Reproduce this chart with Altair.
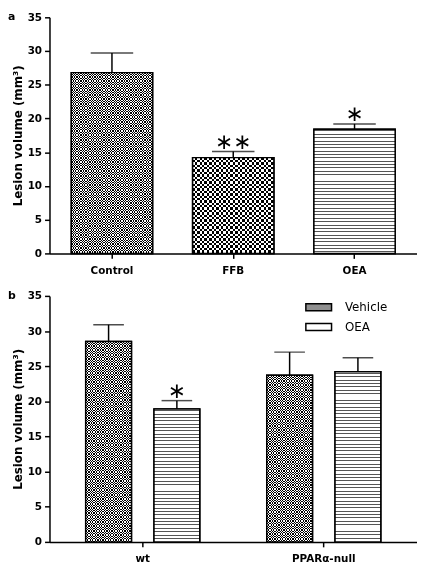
import altair as alt
import pandas as pd

# ---------------- data ----------------
a_groups = ["Control", "FFB", "OEA"]
a_means = [26.8, 14.2, 18.4]
a_errs = [2.9, 0.9, 0.8]
a_sig = ["", "∗∗", "∗"]

b_genotype = ["wt", "wt", "PPARα-null", "PPARα-null"]
b_treat = ["Vehicle", "OEA", "Vehicle", "OEA"]
b_means = [28.5, 18.9, 23.7, 24.2]
b_errs = [2.4, 1.2, 3.3, 2.0]
b_sig = ["", "∗", "", ""]

y_ticks = [0, 5, 10, 15, 20, 25, 30, 35]
y_title = "Lesion volume (mm³)"

FONT = "DejaVu Sans"
W = 372
HA = 239
HB = 249
YMAX = 35
GRAY = "#8f8f8f"
BW_A = 82.5
BW_B = 46.3


def stripes(h_px, period=3.4, thick=1.0, color="#555555", vertical=False,
            light="#ffffff", start=1.2):
    stops = [alt.GradientStop(offset=0, color=light)]
    k = 0
    while True:
        s = (k * period + start) / h_px
        e = s + thick / h_px
        if e >= 1:
            break
        stops += [alt.GradientStop(offset=s, color=light),
                  alt.GradientStop(offset=s, color=color),
                  alt.GradientStop(offset=e, color=color),
                  alt.GradientStop(offset=e, color=light)]
        k += 1
    stops.append(alt.GradientStop(offset=1, color=light))
    if vertical:
        return alt.LinearGradient(gradient="linear", stops=stops, x1=0, x2=1, y1=0, y2=0)
    return alt.LinearGradient(gradient="linear", stops=stops, x1=0, x2=0, y1=0, y2=1)


def checker(base, y, filt, h_px, w_px, period):
    half = period / 2
    clear = "rgba(255,255,255,0)"
    white = base.mark_bar(fill="#ffffff").encode(y=y).transform_filter(filt)
    hs = base.mark_bar(fill=stripes(h_px, period=period, thick=half, color="#ffffff",
                                    light=clear, start=0),
                       blend="difference").encode(y=y).transform_filter(filt)
    vs = base.mark_bar(fill=stripes(w_px, period=period, thick=half, color="#ffffff",
                                    light=clear, start=0, vertical=True),
                       blend="difference").encode(y=y).transform_filter(filt)
    return [white, hs, vs]


def y_axis():
    return alt.Axis(values=y_ticks, title=y_title, titleFont=FONT, titleFontWeight="bold",
                    titleFontSize=12, titleColor="black", titlePadding=3,
                    labelFont=FONT, labelFontWeight="bold", labelFontSize=10.5,
                    labelColor="black", tickSize=5, tickColor="black", tickWidth=1.5,
                    domainColor="black", domainWidth=1.5, grid=False, labelPadding=3,
                    labelOverlap=False)


def x_axis():
    return alt.Axis(labelAngle=0, labelFont=FONT, labelFontWeight="bold",
                    labelFontSize=10.5, labelColor="black", tickSize=5,
                    tickColor="black", tickWidth=1.5, domainColor="black",
                    domainWidth=1.5, labelPadding=7)


def ysc():
    return alt.Scale(domain=[0, YMAX], nice=False)


# ---------------- panel a ----------------
dfa = pd.DataFrame({"group": a_groups, "mean": a_means, "err": a_errs, "sig": a_sig})
dfa["upper"] = dfa["mean"] + dfa["err"]

xa = alt.X("group:N", sort=a_groups, title=None,
           scale=alt.Scale(paddingInner=0.33, paddingOuter=0.18), axis=x_axis())
ya = alt.Y("mean:Q", scale=ysc(), axis=y_axis())
yua = alt.Y("upper:Q", scale=ysc(), axis=y_axis())

base_a = alt.Chart(dfa).encode(x=xa)

bars_a = base_a.mark_bar(stroke="black", strokeWidth=1.5).encode(
    y=ya,
    fill=alt.Fill("group:N", scale=alt.Scale(domain=a_groups,
                                             range=[GRAY, "#ffffff", "#ffffff"]),
                  legend=None))
err_a = base_a.mark_rule(color="black", strokeWidth=1.5).encode(y=ya, y2="upper:Q")

ctrl = checker(base_a, ya, alt.datum.group == "Control",
               a_means[0] / YMAX * HA, BW_A, 2.6)
ffb = checker(base_a, ya, alt.datum.group == "FFB",
              a_means[1] / YMAX * HA, BW_A, 4.8)

oea_h = a_means[2] / YMAX * HA
oea_a = base_a.mark_bar(fill=stripes(oea_h)).encode(y=ya).transform_filter(
    alt.datum.group == "OEA")

outline_a = base_a.mark_bar(fillOpacity=0, stroke="black", strokeWidth=1.5).encode(y=ya)
cap_a = base_a.mark_tick(color="black", size=43, thickness=1.5).encode(y=yua)
sig_a = base_a.mark_text(font=FONT, fontSize=22, baseline="middle", dy=-10,
                         color="black").encode(y=yua, text="sig:N")

lab_a = alt.Chart(pd.DataFrame({"t": ["a"]})).mark_text(
    font=FONT, fontWeight="bold", fontSize=11, align="left", baseline="middle",
    color="black").encode(text="t:N", x=alt.value(-42), y=alt.value(0))

panel_a = alt.layer(bars_a, err_a, *ctrl, *ffb, oea_a, outline_a, cap_a, sig_a,
                    lab_a).properties(width=W, height=HA)

# ---------------- panel b ----------------
dfb = pd.DataFrame({"genotype": b_genotype, "treat": b_treat, "mean": b_means,
                    "err": b_errs, "sig": b_sig})
dfb["upper"] = dfb["mean"] + dfb["err"]
geno_order = ["wt", "PPARα-null"]
treat_order = ["Vehicle", "OEA"]

xb = alt.X("genotype:N", sort=geno_order, title=None,
           scale=alt.Scale(paddingInner=0.37, paddingOuter=0.2), axis=x_axis())
xob = alt.XOffset("treat:N", sort=treat_order,
                  scale=alt.Scale(paddingInner=0.33, paddingOuter=0))
yb = alt.Y("mean:Q", scale=ysc(), axis=y_axis())
yub = alt.Y("upper:Q", scale=ysc(), axis=y_axis())

base_b = alt.Chart(dfb).encode(x=xb, xOffset=xob)

bars_b = base_b.mark_bar(stroke="black", strokeWidth=1.5).encode(
    y=yb,
    fill=alt.Fill("treat:N", sort=treat_order,
                  scale=alt.Scale(domain=treat_order, range=[GRAY, "#ffffff"]),
                  legend=alt.Legend(title=None, orient="none", legendX=265, legendY=4,
                                    symbolType="M-2,-0.54H2V0.54H-2Z", symbolSize=169,
                                    symbolStrokeColor="black", symbolStrokeWidth=1.5,
                                    labelFont=FONT, labelFontSize=12, labelColor="black",
                                    labelOffset=19, rowPadding=5)))
err_b = base_b.mark_rule(color="black", strokeWidth=1.5).encode(y=yb, y2="upper:Q")

tex_layers = []
for i in range(len(b_means)):
    h = b_means[i] / YMAX * HB
    filt = (alt.datum.genotype == b_genotype[i]) & (alt.datum.treat == b_treat[i])
    if b_treat[i] == "OEA":
        tex_layers.append(base_b.mark_bar(fill=stripes(h)).encode(y=yb).transform_filter(filt))
    else:
        tex_layers += checker(base_b, yb, filt, h, BW_B, 2.6)

outline_b = base_b.mark_bar(fillOpacity=0, stroke="black", strokeWidth=1.5).encode(y=yb)
cap_b = base_b.mark_tick(color="black", size=31, thickness=1.5).encode(y=yub)
sig_b = base_b.mark_text(font=FONT, fontSize=22, baseline="middle", dy=-10,
                         color="black").encode(y=yub, text="sig:N")

lab_b = alt.Chart(pd.DataFrame({"t": ["b"]})).mark_text(
    font=FONT, fontWeight="bold", fontSize=11, align="left", baseline="middle",
    color="black").encode(text="t:N", x=alt.value(-42), y=alt.value(0))

panel_b = alt.layer(bars_b, err_b, *tex_layers, outline_b, cap_b, sig_b,
                    lab_b).properties(width=W, height=HB)

chart = alt.vconcat(panel_a, panel_b, spacing=14).properties(
    padding={"left": 0, "top": 0, "right": 0, "bottom": 0}
).configure_view(stroke=None).resolve_scale(x="independent", fill="independent",
                                            y="independent")

chart.save("out.html", embed_options={"renderer": "svg", "actions": False})
